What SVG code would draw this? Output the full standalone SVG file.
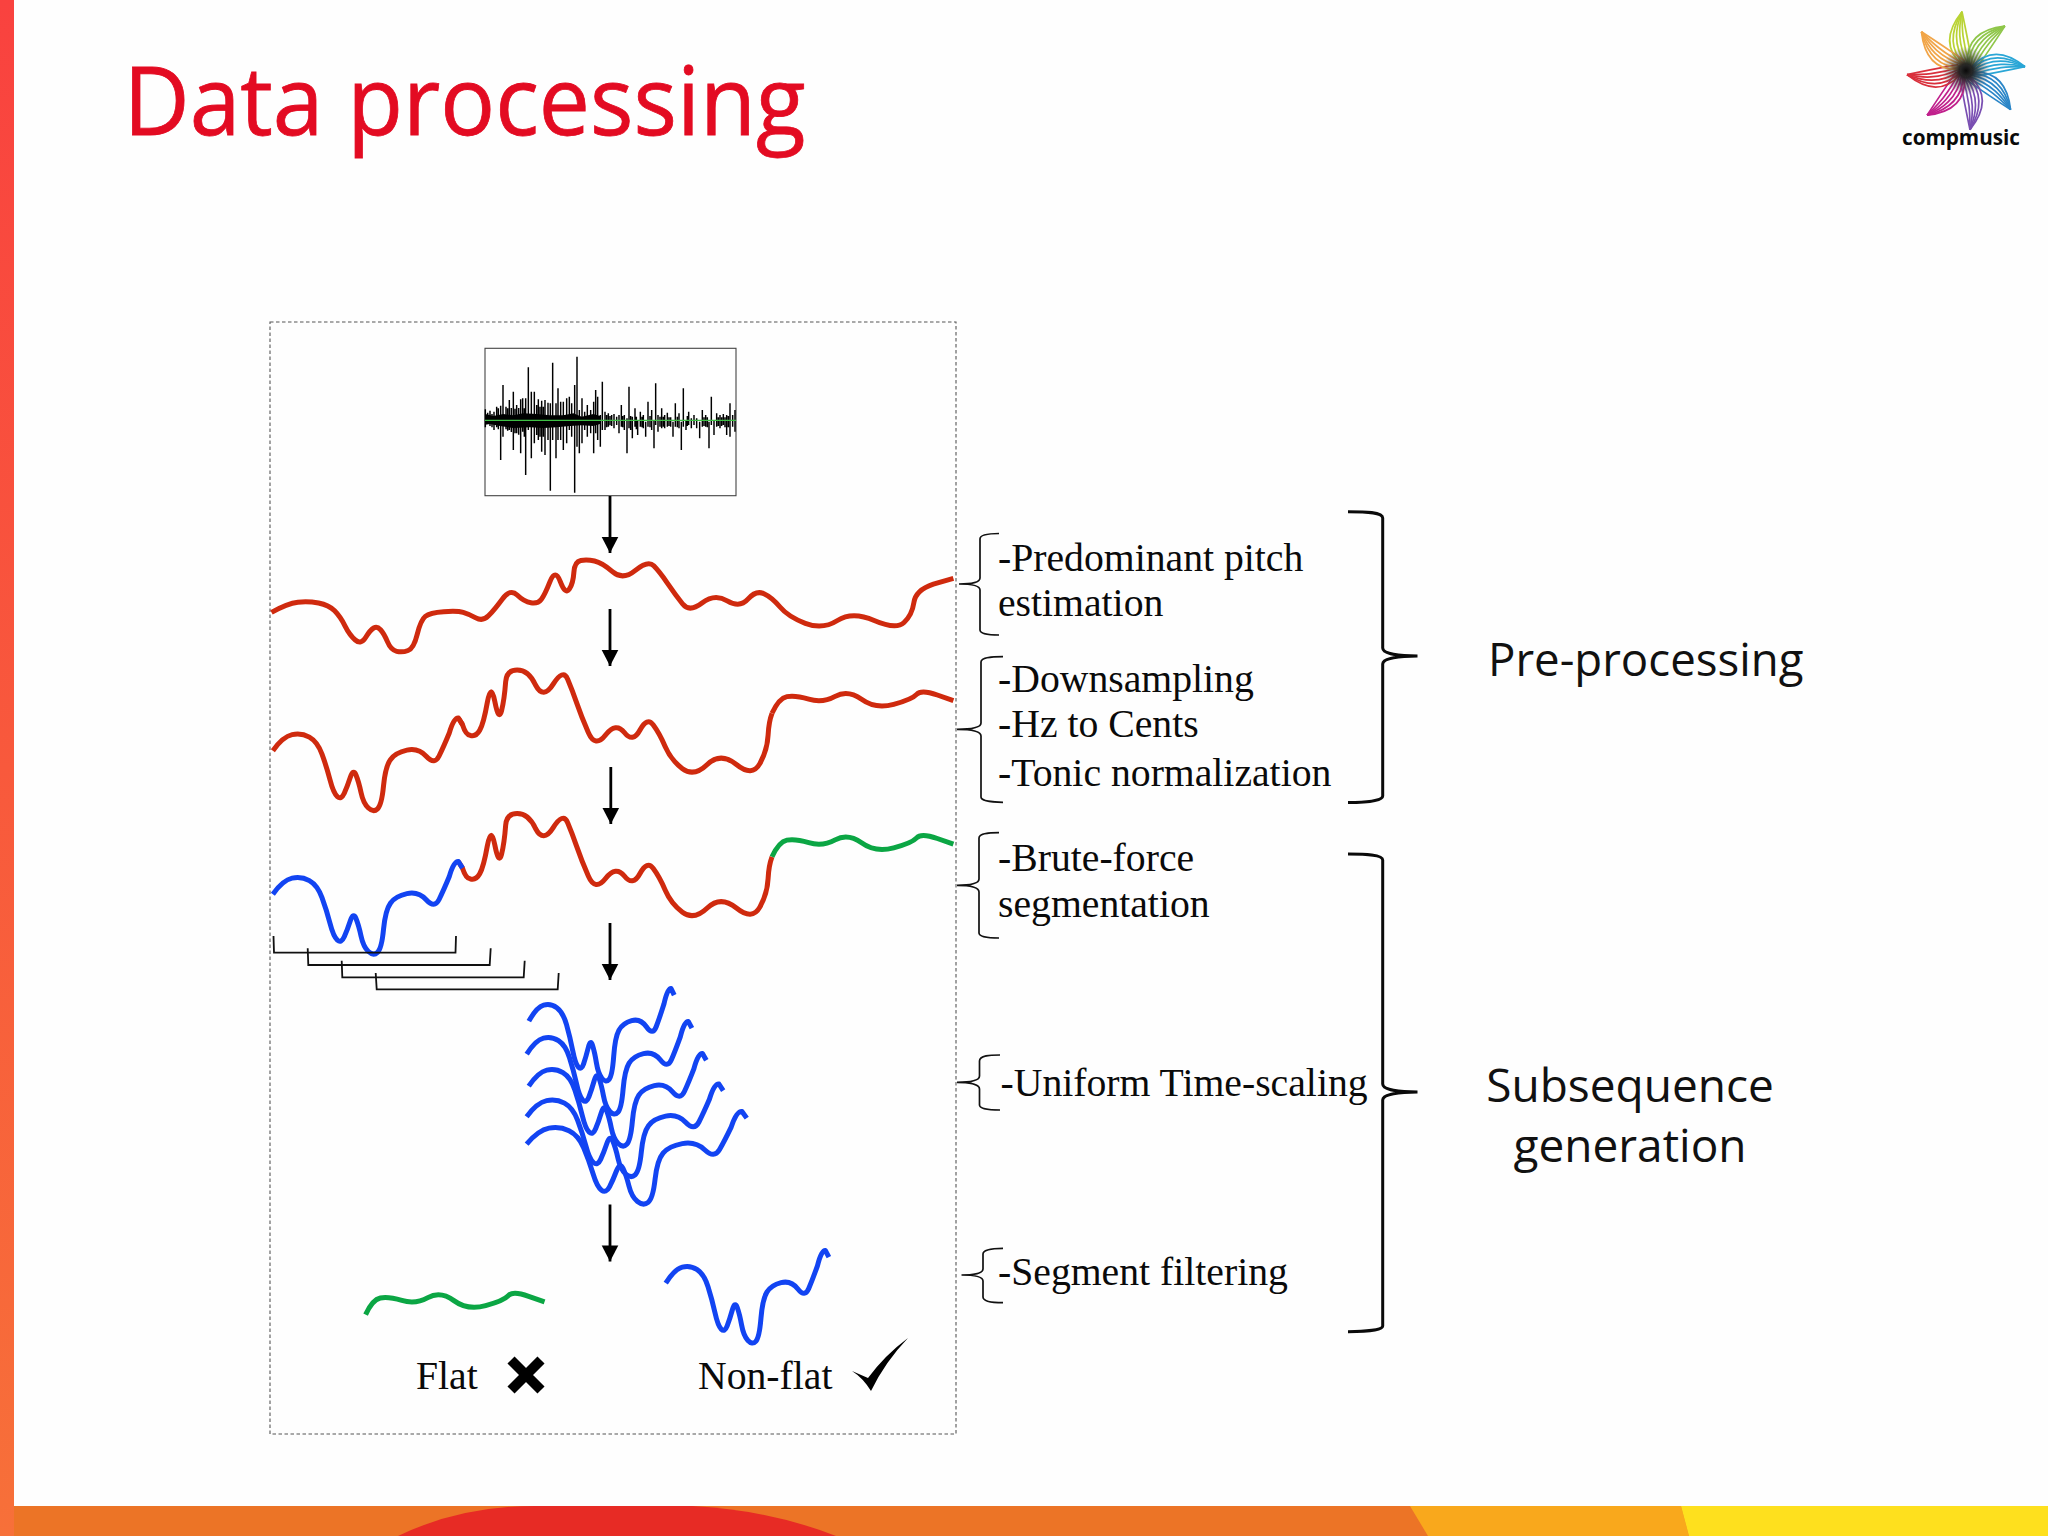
<svg xmlns="http://www.w3.org/2000/svg" width="2048" height="1536" viewBox="0 0 2048 1536">
<style>
.sans{font-family:"Open Sans","Noto Sans","Liberation Sans",sans-serif;fill:#111}
.serif{font-family:"Liberation Serif","Times New Roman",serif;font-size:39.7px;fill:#0a0a0a}
.big{font-size:46px}
.c{fill:none;stroke-width:5;stroke-linecap:butt;stroke-linejoin:round;vector-effect:non-scaling-stroke}
.red{stroke:#cf2a0e}.blue{stroke:#1244f2}.green{stroke:#0ba644}
.brace{fill:none;stroke:#111;stroke-width:1.7}
.bigbrace{fill:none;stroke:#0a0a0a;stroke-width:3}
.seg{fill:none;stroke:#111;stroke-width:1.8}
.arrow{stroke:#000;stroke-width:2.8;fill:none;marker-end:url(#head)}
.p{fill:none;stroke-width:1.7}
</style>
<defs>
<linearGradient id="bar" x1="0" y1="0" x2="0" y2="1"><stop offset="0" stop-color="#f9423f"/><stop offset="1" stop-color="#f77039"/></linearGradient>
<radialGradient id="eye"><stop offset="0" stop-color="#0a0a0a"/><stop offset=".3" stop-color="#222" stop-opacity=".95"/><stop offset="1" stop-color="#555" stop-opacity="0"/></radialGradient>
<marker id="head" markerUnits="userSpaceOnUse" markerWidth="18" markerHeight="18" viewBox="0 0 18 18" refX="17" refY="9" orient="auto"><path d="M1,0.7 L17,9 L1,17.3 Z" fill="#000"/></marker>
<path id="segA" class="c" d="M28,1292 Q50,1250 70,1244 Q90,1238 107.5,1251.5 Q125,1265 135,1302.5 Q145,1340 152.5,1380 Q160,1420 168.5,1430 Q177,1440 183.5,1420 Q190,1400 196.5,1372.5 Q203,1345 209,1365 Q215,1385 220,1417.5 Q225,1450 236,1464 Q247,1478 256,1466.5 Q265,1455 269,1397.5 Q273,1340 284,1319 Q295,1298 320,1290.5 Q345,1283 362.5,1309.5 Q380,1336 390,1308 Q400,1280 412,1240 Q422,1192 432,1194 L441,1214"/>
<path id="segB" class="c" d="M432,1194 L441,1214 Q448,1244 457.5,1246 Q470,1252 478.5,1231 Q487,1210 495,1147.5 Q503,1085 511.5,1145 Q520,1205 526,1172.5 Q532,1140 535,1085 Q537,1050 560,1050 Q585,1050 600,1095 Q617,1140 638.5,1092.5 Q660,1045 670,1077.5 Q680,1110 690,1150 Q700,1190 715,1237.5 Q730,1285 752.5,1245 Q775,1205 793.5,1237.5 Q812,1270 827.5,1230 Q843,1190 856.5,1215 Q870,1240 882.5,1280 Q895,1320 920,1346 Q945,1372 974,1333.5 Q1003,1295 1037.5,1333.5 Q1072,1372 1088.5,1331 Q1105,1290 1106.5,1245 Q1108,1205 1115,1180"/>
<path id="segC" class="c" d="M1115,1180 Q1130,1135 1147.5,1130 Q1165,1125 1195,1137.5 Q1225,1150 1252.5,1129 Q1280,1108 1310,1138 Q1340,1168 1380,1153 Q1420,1138 1430,1123 Q1440,1108 1475,1125 L1510,1142"/>
<g id="petal">
<path class="p" d="M-4,-59 C-16,-44 -24,-24 -4,-6"/>
<path class="p" d="M-4,-59 C-13,-44 -19,-24 -2,-6"/>
<path class="p" d="M-4,-59 C-10,-44 -14,-26 0,-6"/>
<path class="p" d="M-4,-59 C-7,-44 -9,-28 2,-6"/>
<path class="p" d="M-4,-59 C-4,-44 -4,-28 4,-6"/>
<path class="p" d="M-4,-59 C-1,-45 2,-30 6,-8"/>
</g>
</defs>
<rect width="2048" height="1536" fill="#fefefe"/>
<g id="slide-frame">
<rect x="0" y="1506" width="2048" height="30" fill="#ec7426"/>
<path d="M398,1536 Q460,1506 535,1506 L692,1506 Q770,1510 836,1536 Z" fill="#e72b25"/>
<path d="M1410,1506 L1681,1506 L1689,1536 L1428,1536 Z" fill="#f9a81c"/>
<path d="M1681,1506 L2048,1506 L2048,1536 L1689,1536 Z" fill="#fee01e"/>
<rect x="0" y="0" width="14" height="1536" fill="url(#bar)"/>
</g>
<g id="title"><text x="123.5" y="135" class="sans" style="fill:#e30b22;stroke:#e30b22;stroke-width:.8;font-size:95px" textLength="682" lengthAdjust="spacingAndGlyphs">Data processing</text></g>
<g id="logo">
<g transform="translate(1966,70.7)">
<use href="#petal" stroke="#b9d334"/>
<use href="#petal" transform="rotate(45)" stroke="#8fc64a"/>
<use href="#petal" transform="rotate(90)" stroke="#2aa6d6"/>
<use href="#petal" transform="rotate(135)" stroke="#2a86c8"/>
<use href="#petal" transform="rotate(180)" stroke="#7a4fb2"/>
<use href="#petal" transform="rotate(225)" stroke="#c0208c"/>
<use href="#petal" transform="rotate(270)" stroke="#d9303c"/>
<use href="#petal" transform="rotate(315)" stroke="#f1a548"/>
<circle r="24" fill="url(#eye)"/>
</g>
<text x="1902" y="145" class="sans" style="font-size:21px;font-weight:700;fill:#0a0a0a" textLength="118" lengthAdjust="spacingAndGlyphs">compmusic</text>
</g>
<g id="frame"><rect x="270" y="322" width="686" height="1112" fill="none" stroke="#555" stroke-width="1.1" stroke-dasharray="3.5 2.5"/></g>
<g id="waveform">
<rect x="485" y="348.3" width="251" height="147.4" fill="#fff" stroke="#444" stroke-width="1.1"/>
<g transform="translate(470,340) scale(.33333)">
<path fill="#000" d="M46,222 L70,228 L100,222 L130,226 L160,220 L200,222 L240,226 L280,226 L310,220 L335,230 L370,222 L390,228 L390,252 L370,258 L335,256 L300,258 L260,262 L220,264 L180,262 L130,264 L90,258 L60,252 L46,254 Z"/>
<path fill="none" stroke="#000" stroke-width="4.4" d="M46,208V262 M53,218V252 M60,212V258 M66,222V262 M72,215V270 M80,200V262 M85,205V268 M92,197V360 M99,135V290 M108,200V268 M113,205V272 M118,180V270 M124,204V276 M130,155V330 M135,206V280 M140,195V280 M146,204V284 M152,178V340 M158,175V275 M163,205V290 M167,175V405 M175,82V270 M184,155V355 M193,155V310 M200,195V285 M205,178V300 M210,200V290 M215,182V335 M220,200V290 M225,180V345 M234,188V300 M241,190V452 M248,68V300 M258,190V355 M264,145V300 M272,185V300 M280,185V330 M290,175V310 M298,170V270 M305,190V290 M314,135V458 M321,50V320 M328,210V340 M336,175V310 M344,215V270 M352,195V290 M362,210V280 M371,185V340 M377,150V280 M383,170V300 M391,225V320 M397,125V270 M405,215V270 M410,225V262 M415,220V260 M420,228V256 M425,225V258 M432,222V265 M440,230V255 M447,225V280 M454,195V260 M458,228V262 M463,225V270 M471,235V340 M477,140V265 M482,228V270 M487,230V295 M495,205V260 M499,230V268 M503,240V285 M511,215V260 M516,230V262 M520,225V265 M527,245V290 M534,185V260 M540,228V262 M545,210V270 M552,240V325 M557,130V255 M564,225V275 M570,230V260 M575,205V265 M580,230V260 M584,225V265 M592,218V260 M597,232V258 M602,232V260 M609,245V290 M616,190V260 M622,230V262 M627,220V265 M634,245V330 M640,145V260 M648,240V270 M652,228V258 M656,215V255 M664,235V265 M672,225V255 M680,235V265 M689,245V295 M697,210V260 M702,232V258 M707,225V260 M712,232V262 M717,245V325 M724,170V255 M732,240V285 M740,220V260 M745,232V258 M750,225V265 M755,232V258 M760,222V255 M765,232V262 M770,225V285 M775,228V262 M780,190V290 M788,225V260 M795,210V275"/>
</g>
<line x1="485" y1="420.3" x2="736" y2="420.3" stroke="#3fbf45" stroke-width="1.3"/>
</g>
<g id="pitch-raw" transform="translate(260,320) scale(.4592,.33333)">
<path class="c red" d="M25,877 Q60,850 82.5,846.5 Q105,843 127.5,849 Q150,855 162.5,872.5 Q175,890 185,917.5 Q195,945 207.5,960 Q220,975 230,952.5 Q240,930 247.5,924 Q255,918 262.5,929 Q270,940 277.5,965 Q285,990 297.5,994 Q310,998 322.5,991.5 Q335,985 342.5,942.5 Q350,900 360,889 Q370,878 400,875 Q430,872 442.5,877 Q455,882 470,893.5 Q485,905 497.5,887.5 Q510,870 527.5,837.5 Q545,805 560,825 Q575,845 590,848.5 Q605,852 612.5,838.5 Q620,825 631.5,785 Q643,745 654,785 Q665,825 673.5,807.5 Q682,790 683.5,757.5 Q685,725 698.5,721.5 Q712,718 728.5,723 Q745,728 767.5,755 Q790,782 817.5,751 Q845,720 857.5,737.5 Q870,755 887.5,790 Q905,825 920,851.5 Q935,878 962.5,849 Q990,820 1017.5,842.5 Q1045,865 1062.5,837.5 Q1080,810 1097.5,821 Q1115,832 1132.5,861 Q1150,890 1187.5,910 Q1225,930 1257.5,901.5 Q1290,873 1337.5,901.5 Q1385,930 1402.5,907.5 Q1420,885 1424,847.5 Q1428,810 1466.5,792.5 L1510,775"/>
</g>
<g id="pitch-normalized" class="red" transform="translate(260,320) scale(.4592,.33333)">
<use href="#segA" style="stroke-width:6"/><use href="#segB" style="stroke-width:6"/><use href="#segC" style="stroke-width:6"/>
</g>
<g id="pitch-segmented" transform="translate(260,463.5) scale(.4592,.33333)">
<use href="#segB" class="red"/><use href="#segA" class="blue"/><use href="#segC" class="green"/>
</g>
<g id="segment-windows">
<path class="seg" d="M273.5,936 L274,952.7 L455.5,952.7 L456,936"/>
<path class="seg" d="M307.7,948.3 L308.3,965 L489.7,965 L490.7,948.3"/>
<path class="seg" d="M341.7,960.7 L342.3,977.3 L523.7,977.3 L524.7,960.7"/>
<path class="seg" d="M375.7,973 L376.7,989.3 L557.7,989.3 L558.7,973"/>
</g>
<g id="scaled-subsequences" class="blue">
<use href="#segA" transform="translate(519,590.5) scale(.352,.33333)"/>
<use href="#segA" transform="translate(515.5,623.5) scale(.4,.33333)"/>
<use href="#segA" transform="translate(516.7,655.5) scale(.43,.33333)"/>
<use href="#segA" transform="translate(513.3,686) scale(.476,.33333)"/>
<use href="#segA" transform="translate(511.7,713.5) scale(.533,.33333)"/>
</g>
<g id="flat-segment" class="green"><use href="#segC" transform="translate(-139.5,921.3) scale(.453,.33333)"/></g>
<g id="nonflat-segment" class="blue"><use href="#segA" transform="translate(654.7,852.5) scale(.395,.33333)"/></g>
<g id="connectors">
<line class="arrow" x1="610" y1="496" x2="610" y2="553"/>
<line class="arrow" x1="610" y1="609" x2="610" y2="666"/>
<line class="arrow" x1="610.8" y1="767" x2="610.8" y2="824"/>
<line class="arrow" x1="610" y1="923" x2="610" y2="980"/>
<line class="arrow" x1="610" y1="1204.5" x2="610" y2="1261.5"/>
<path class="brace" d="M999,533.5 C990,533.5 980,534 980,539 L980,578 C980,583 970,584 959,584 C970,584 980,585 980,590 L980,630 C980,634 990,635 999,635"/>
<path class="brace" d="M1003,656.7 C993,656.7 981,657 981,662 L981,723 C981,728 970,729.3 957,729.3 C970,729.3 981,731 981,736 L981,797 C981,801 993,802.3 1003,802.3"/>
<path class="brace" d="M999,832.7 C990,832.7 979,833 979,838 L979,879 C979,884 968,885.3 957,885.3 C968,885.3 979,887 979,892 L979,933 C979,937 990,938 999,938"/>
<path class="brace" d="M1000,1055 C990,1055 979.5,1055.5 979.5,1061 L979.5,1076 C979.5,1081 968,1082.3 957,1082.3 C968,1082.3 979.5,1084 979.5,1089 L979.5,1105 C979.5,1109 990,1110 1000,1110"/>
<path class="brace" d="M1003,1248.3 C993,1248.3 983,1249 983,1254 L983,1269 C983,1274 972,1275 961.5,1275 C972,1275 983,1276 983,1281 L983,1297 C983,1301.5 993,1302.7 1003,1302.7"/>
<path class="bigbrace" d="M1348,511.7 C1365,511.7 1382.7,512 1382.7,518 L1382.7,648 C1382.7,654 1400,656 1417.5,656 C1400,656 1382.7,658 1382.7,664 L1382.7,796 C1382.7,801 1365,802.5 1348,802.5"/>
<path class="bigbrace" d="M1348,854 C1365,854 1382.7,854.5 1382.7,860 L1382.7,1084 C1382.7,1090 1400,1092 1417.5,1092 C1400,1092 1382.7,1094 1382.7,1100 L1382.7,1326 C1382.7,1330 1365,1331.7 1348,1331.7"/>
</g>
<g id="step-pitch"><text class="serif" x="998" y="570.7">-Predominant pitch</text><text class="serif" x="998" y="616.4">estimation</text></g>
<g id="step-normalize"><text class="serif" x="998" y="691.7">-Downsampling</text><text class="serif" x="998" y="737.4">-Hz to Cents</text><text class="serif" x="998" y="785.7">-Tonic normalization</text></g>
<g id="step-segmentation"><text class="serif" x="998" y="871.4">-Brute-force</text><text class="serif" x="998" y="916.7">segmentation</text></g>
<g id="step-scaling"><text class="serif" x="1000.5" y="1096.4">-Uniform Time-scaling</text></g>
<g id="step-filtering"><text class="serif" x="998" y="1284.7">-Segment filtering</text></g>
<g id="label-flat"><text class="serif" x="416" y="1389">Flat</text>
<path d="M511,1360 L541,1390 M541,1360 L511,1390" stroke="#000" stroke-width="10" fill="none"/></g>
<g id="label-nonflat"><text class="serif" x="698" y="1389">Non-flat</text>
<path d="M852,1371 L868,1378 Q885,1355 908,1338 Q885,1362 871,1391 Q863,1378 852,1371 Z" fill="#000"/></g>
<g id="group-preprocessing"><text class="sans" style="font-size:45.6px" x="1488" y="676">Pre-processing</text></g>
<g id="group-subsequence"><text class="sans big" x="1630" y="1102" text-anchor="middle">Subsequence</text><text class="sans big" x="1630" y="1162" text-anchor="middle">generation</text></g>
</svg>
